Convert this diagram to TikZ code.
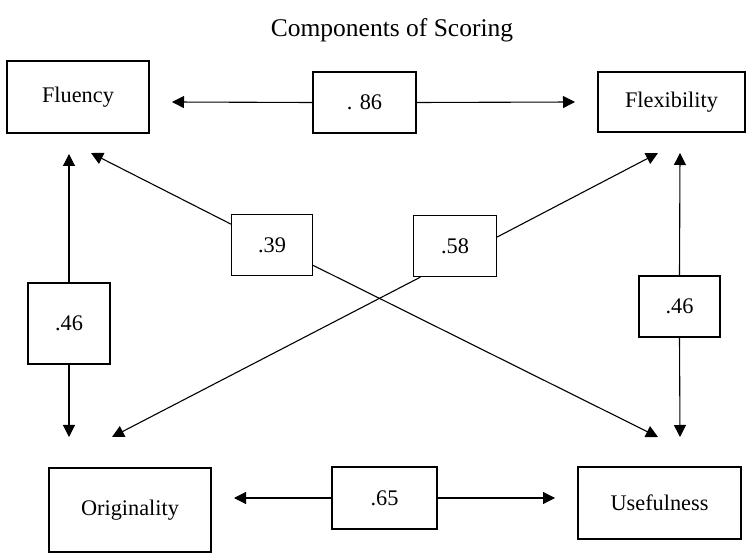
\documentclass[tikz,border=0pt]{standalone}
\usepackage{fontspec}
\setmainfont{Liberation Serif}
\usetikzlibrary{arrows.meta}

\begin{document}
\begin{tikzpicture}[
  x=1pt, y=-1pt,
  box/.style={draw, line width=1.2pt, inner sep=0pt, align=center, font=\fontsize{22.3}{26}\selectfont},
  num/.style={draw, line width=1.2pt, inner sep=0pt, align=center, font=\fontsize{22.3}{26}\selectfont},
  arr/.style={-{Triangle[length=12pt,width=12pt]}, line width=1.1pt}
]
\useasboundingbox (0,0) rectangle (753,553);

\node[font=\fontsize{25.5}{30}\selectfont] (title) at (392,30) {Components of Scoring};

% the four scores
\node[box, minimum width=142pt, minimum height=72pt] (flu) at (78,97) {Fluency};
\node[box, minimum width=147pt, minimum height=60pt] (flex) at (671.5,102) {Flexibility};
\node[box, minimum width=162pt, minimum height=84pt] (orig) at (130,510) {Originality};
\node[box, minimum width=163pt, minimum height=72pt] (use) at (659.5,503) {Usefulness};

% correlations
\node[num, minimum width=103pt, minimum height=61pt] (r86) at (364.5,102.5) {. 86};
\node[num, minimum width=82pt, minimum height=81pt] (r46l) at (69,323.5) {.46};
\node[num, minimum width=81pt, minimum height=61pt] (r46r) at (679.5,306.5) {.46};
\node[num, minimum width=81pt, minimum height=61pt] (r39) at (272,245) {.39};
\node[num, minimum width=83pt, minimum height=61pt] (r58) at (455,246) {.58};
\node[num, minimum width=105pt, minimum height=62pt] (r65) at (384.5,498) {.65};

% arrow tips
\coordinate (fluR) at (172,102);
\coordinate (flexL) at (575,102);
\coordinate (fluB) at (69,154);
\coordinate (origT) at (69,437);
\coordinate (flexB) at (680,153);
\coordinate (useT) at (680,437);
\coordinate (fluD) at (91,153);
\coordinate (useD) at (658,437);
\coordinate (flexD) at (658,153);
\coordinate (origD) at (112,437);
\coordinate (origR) at (234,498);
\coordinate (useL) at (555,498);

\draw[arr] (r86.west) -- (fluR);
\draw[arr] (r86.east) -- (flexL);
\draw[arr] (r46l.north) -- (fluB);
\draw[arr] (r46l.south) -- (origT);
\draw[arr] (r46r.north) -- (flexB);
\draw[arr] (r46r.south) -- (useT);
\draw[arr] (r39) -- (fluD);
\draw[arr] (r39) -- (useD);
\draw[arr] (r58.12) -- (flexD);
\draw[arr] (r58.222) -- (origD);
\draw[arr] (r65.west) -- (origR);
\draw[arr] (r65.east) -- (useL);

\end{tikzpicture}
\end{document}
